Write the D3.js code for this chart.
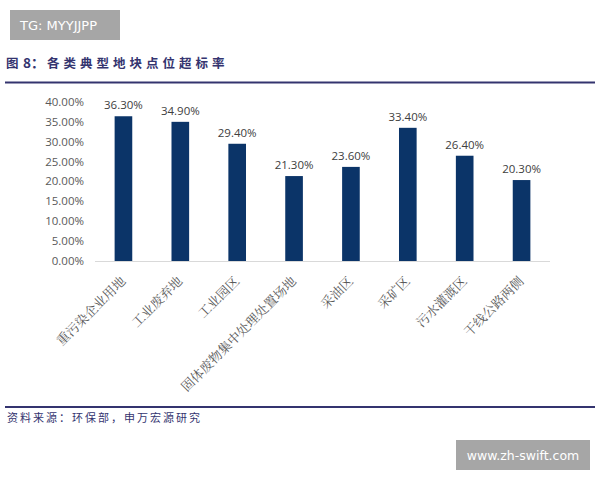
<!DOCTYPE html>
<html><head><meta charset="utf-8">
<script src="https://cdn.jsdelivr.net/npm/d3@7"></script>
<style>body{margin:0;background:#fff}svg{display:block}</style>
</head><body><svg id="c" width="600" height="480"></svg>
<script>
const categories = ["重污染企业用地","工业废弃地","工业园区","固体废物集中处理处置场地","采油区","采矿区","污水灌溉区","干线公路两侧"];
const values = [0.363,0.349,0.294,0.213,0.236,0.334,0.264,0.203];
const yTicks = [0,0.05,0.10,0.15,0.20,0.25,0.30,0.35,0.40];
const titleParts = ["图", "8：", "各类典型地块点位超标率"];
const source = "资料来源：环保部，申万宏源研究";

const svg = d3.select("#c");
const navy = "#34346f";
const cjk = "'Noto Sans CJK SC','Noto Sans',sans-serif";

// watermark top-left
svg.append("rect").attr("x",10).attr("y",10).attr("width",110).attr("height",30).attr("fill","#a6a6a6");
svg.append("text").attr("x",20).attr("y",30).attr("fill","#fff").attr("font-family","'DejaVu Sans',sans-serif").attr("font-size",13).text("TG: MYYJJPP");

// title
const t = svg.append("text").attr("y",68).attr("fill",navy).attr("font-family",cjk).attr("font-weight","bold").attr("font-size",12.5);
t.append("tspan").attr("x",6).text(titleParts[0]);
t.append("tspan").attr("x",23).attr("font-size",13.5).text(titleParts[1]);
t.append("tspan").attr("x",47).attr("letter-spacing",4).text(titleParts[2]);
svg.append("line").attr("x1",5).attr("x2",595).attr("y1",82.5).attr("y2",82.5).attr("stroke",navy).attr("stroke-width",2);

const x = d3.scaleBand().domain(categories).range([95,550]).paddingInner(0.69).paddingOuter(0.345);
const y = d3.scaleLinear().domain([0,0.40]).range([261,101.5]);

// y axis
const ya = svg.append("g").attr("transform","translate(88,0)")
  .call(d3.axisLeft(y).tickValues(yTicks).tickFormat(d3.format(".2%")).tickSize(0).tickPadding(4));
ya.select(".domain").remove();
ya.selectAll("text").attr("fill","#595959").attr("font-family","'Open Sans','Noto Sans',sans-serif").attr("font-size",11.5);

// baseline
svg.append("line").attr("x1",95).attr("x2",550).attr("y1",261.5).attr("y2",261.5).attr("stroke","#d9d9d9").attr("stroke-width",1);

// bars
svg.selectAll("rect.bar").data(values).enter().append("rect").attr("class","bar")
  .attr("x",(d,i)=>x(categories[i])).attr("width",x.bandwidth())
  .attr("y",d=>y(d)).attr("height",d=>y(0)-y(d)).attr("fill","#0b3468");

// value labels
svg.selectAll("text.val").data(values).enter().append("text").attr("class","val")
  .attr("x",(d,i)=>x(categories[i])+x.bandwidth()/2).attr("y",d=>y(d)-7)
  .attr("text-anchor","middle").attr("fill","#404040")
  .attr("font-family","'Open Sans','Noto Sans',sans-serif").attr("font-size",11.5)
  .text(d=>d3.format(".2%")(d));

// x labels
const xa = svg.append("g").attr("transform","translate(0,261)")
  .call(d3.axisBottom(x).tickSize(0).tickPadding(0));
xa.select(".domain").remove();
xa.selectAll("text").attr("fill","#595959").attr("font-family","'Noto Serif CJK SC','Noto Sans CJK SC',serif").attr("font-size",13)
  .attr("text-anchor","end").attr("dy",0).attr("y",0)
  .attr("transform","translate(3,21) rotate(-45)");

// bottom line & source
svg.append("line").attr("x1",5).attr("x2",595).attr("y1",407).attr("y2",407).attr("stroke",navy).attr("stroke-width",2);
svg.append("text").attr("x",7).attr("y",422).attr("fill",navy).attr("font-family",cjk).attr("font-size",11).attr("letter-spacing",2).text(source);

// watermark bottom-right
svg.append("rect").attr("x",456).attr("y",440).attr("width",134).attr("height",30).attr("fill","#a6a6a6");
svg.append("text").attr("x",523).attr("y",460).attr("text-anchor","middle").attr("fill","#fff").attr("font-family","'DejaVu Sans',sans-serif").attr("font-size",12.5).text("www.zh-swift.com");
</script></body></html>
